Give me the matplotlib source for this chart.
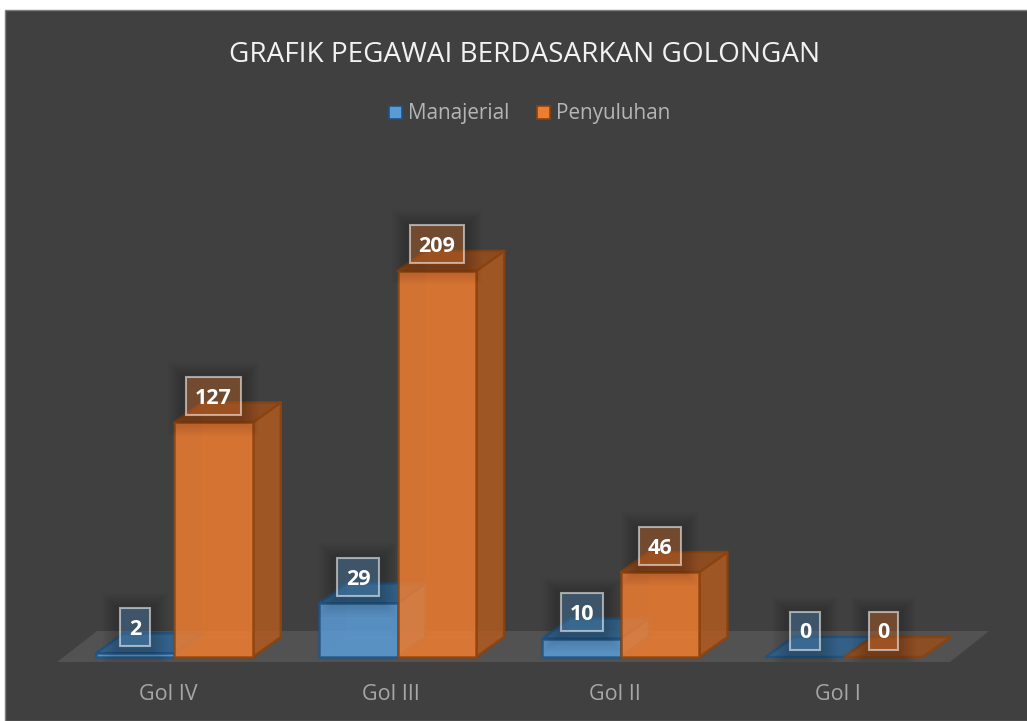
import matplotlib
matplotlib.use("Agg")
import matplotlib.pyplot as plt
from matplotlib.patches import Patch, Rectangle

plt.rcParams['font.family'] = ['Open Sans', 'DejaVu Sans']

title = "GRAFIK PEGAWAI BERDASARKAN GOLONGAN"
categories = ["Gol IV", "Gol III", "Gol II", "Gol I"]
series_names = ["Manajerial", "Penyuluhan"]
manajerial = [2, 29, 10, 0]
penyuluhan = [127, 209, 46, 0]

W, H = 1027, 721
BG = "#404040"
FLOOR = "#525252"

# pixel scale of the chart, value 0 sits at pixel row 657
PX_CAT = 223.3
PX_VAL = 386 / 209
X0 = 168
Y0 = 657
FLOOR_FRONT = 662

BLUE = dict(main="#5B9BD5", side="#4A80B0", top="#2F6391", edge="#1F5282")
ORANGE = dict(main="#ED7D31", side="#AE5A21", top="#974E1C", edge="#8A430F")

fig = plt.figure(figsize=(W / 100, H / 100), dpi=100, facecolor="white")
fig.add_artist(Rectangle((5 / W, 0), 1, 1 - 10 / H, transform=fig.transFigure,
                         facecolor=BG, edgecolor="#7F7F7F", linewidth=1, zorder=-1))

ax = fig.add_axes([0, (H - FLOOR_FRONT) / H, 1, FLOOR_FRONT / H])
ax.patch.set_visible(False)
ax.set_xlim(-X0 / PX_CAT, (W - X0) / PX_CAT)
ax.set_ylim(-(FLOOR_FRONT - Y0) / PX_VAL, Y0 / PX_VAL)
for s in ax.spines.values():
    s.set_visible(False)
ax.set_yticks([])
ax.set_xticks(range(len(categories)))
ax.set_xticklabels(categories, fontsize=15.5, color="#A6A6A6")
ax.tick_params(axis="x", length=0, pad=16)


def px_x(p):
    return p / PX_CAT


def px_y(p):
    return p / PX_VAL


DX = px_x(28)
DY = px_y(20)
BAR_W = px_x(78.5)
SHIFT = px_x(6.3)

# floor
fx0, fx1 = px_x(57 - X0), px_x(950 - X0)
fy0, fy1 = -px_y(FLOOR_FRONT - Y0), px_y(Y0 - 631)
ax.fill([fx0, fx1, fx1 + px_x(39), fx0 + px_x(40)], [fy0, fy0, fy1, fy1],
        color=FLOOR, linewidth=0, zorder=1)


def draw_bar(x, v, c, z):
    x1 = x + BAR_W
    lw = 1.8
    alpha = 0.85
    kw = dict(edgecolor=c["edge"], linewidth=lw, zorder=z, joinstyle="round")
    if v == 0:
        ax.fill([x, x1, x1 + DX, x + DX], [0, 0, DY, DY], facecolor=c["top"],
                alpha=alpha, **kw)
        return
    # inner faces seen through the front
    ax.fill([x, x1, x1 + DX, x + DX], [0, 0, DY, DY], facecolor=c["main"],
            alpha=0.15, edgecolor=c["main"], linewidth=0.8, zorder=z)
    ax.fill([x + DX, x1 + DX, x1 + DX, x + DX], [DY, DY, v + DY, v + DY],
            facecolor=c["main"], alpha=0.1, edgecolor=c["main"], linewidth=0.8, zorder=z)
    ax.fill([x1, x1 + DX, x1 + DX, x1], [0, DY, v + DY, v], facecolor=c["side"],
            alpha=alpha, **kw)
    ax.fill([x, x1, x1 + DX, x + DX], [v, v, v + DY, v + DY], facecolor=c["top"],
            alpha=alpha, **kw)
    ax.fill([x, x1, x1, x], [0, 0, v, v], facecolor=c["main"], alpha=0.85, **kw)


def draw_label(xc, v, c):
    txt = str(v)
    w = px_x(17 + 12.4 * len(txt))
    h = px_y(38)
    yc = v + px_y(26.5)
    for grow in range(18, 0, -2):
        ax.add_patch(Rectangle((xc - w / 2 - px_x(grow), yc - h / 2 - px_y(grow + 3)),
                               w + 2 * px_x(grow), h + 2 * px_y(grow),
                               facecolor="black", alpha=0.02, linewidth=0, zorder=20))
    ax.add_patch(Rectangle((xc - w / 2, yc - h / 2), w, h,
                           facecolor=(*matplotlib.colors.to_rgb(c["main"]), 0.35),
                           edgecolor=(1, 1, 1, 0.55), linewidth=1.5, zorder=21))
    ax.text(xc, yc, txt, color="white", fontsize=15.5, fontweight="bold",
            ha="center", va="center_baseline", zorder=22)


for i in range(len(categories)):
    x_blue = i + SHIFT - BAR_W
    x_orange = i + SHIFT
    draw_bar(x_blue, manajerial[i], BLUE, 5 + i * 2)
    draw_bar(x_orange, penyuluhan[i], ORANGE, 6 + i * 2)

for i in range(len(categories)):
    draw_label(i + SHIFT - BAR_W / 2, manajerial[i], BLUE)
    draw_label(i + SHIFT + BAR_W / 2, penyuluhan[i], ORANGE)

fig.text(525 / W, 1 - 55 / H, title, color="#F2F2F2", fontsize=20.1,
         ha="center", va="center")

handles = [Patch(facecolor=BLUE["main"], edgecolor=BLUE["edge"], linewidth=1.2),
           Patch(facecolor=ORANGE["main"], edgecolor=ORANGE["edge"], linewidth=1.2)]
fig.legend(handles, series_names, loc="center", bbox_to_anchor=(529.5 / W, 1 - 114 / H),
           ncol=2, frameon=False, fontsize=14.9, labelcolor="#B5B5B5",
           handlelength=0.62, handleheight=0.62, handletextpad=0.3, columnspacing=1.35)

fig.savefig("out.png", dpi=100, facecolor="white")
